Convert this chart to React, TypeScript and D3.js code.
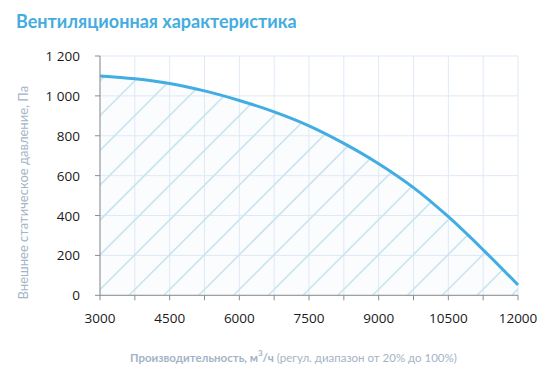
import React from "react";
import * as d3 from "d3";

const flows = [3000, 3750, 4500, 5250, 6000, 6750, 7500, 8250, 9000, 9750, 10500, 11250, 12000];
const pressures = [1100, 1086, 1062, 1025, 977, 920, 850, 762, 660, 540, 394, 228, 52];
const xTickLabels = [3000, 4500, 6000, 7500, 9000, 10500, 12000];
const xMinorTicks = [3000, 3750, 4500, 5250, 6000, 6750, 7500, 8250, 9000, 9750, 10500, 11250, 12000];
const yTicks = [0, 200, 400, 600, 800, 1000, 1200];

const W = 553, H = 379;
const M = { left: 100, right: 35, top: 56, bottom: 84 };

export default function App() {
  const x = d3.scaleLinear().domain([3000, 12000]).range([M.left, W - M.right]);
  const y = d3.scaleLinear().domain([0, 1200]).range([H - M.bottom + 0.3, M.top]);
  const pts = flows.map((f, i) => [f, pressures[i]] as [number, number]);
  const line = d3.line<[number, number]>().x(d => x(d[0])).y(d => y(d[1])).curve(d3.curveCatmullRom.alpha(0.5));
  const area = d3.area<[number, number]>().x(d => x(d[0])).y0(y(0)).y1(d => y(d[1])).curve(d3.curveCatmullRom.alpha(0.5));
  const fmt = (v: number) => v >= 1000 ? `${Math.floor(v / 1000)} ${String(v % 1000).padStart(3, "0")}` : String(v);

  // hatch lines x + y = c
  const hatch: number[] = [];
  for (let c = 356 - 35 * 6; c < 900; c += 34.8) hatch.push(c);
  const x0 = x(3000), x1 = x(12000), yb = y(0), yt = y(1200);
  const labelFont = "Lato, 'Open Sans', sans-serif";

  return (
    <svg width={W} height={H} style={{ position: "absolute", left: 0, top: 0, background: "#fff" }}>
      <defs>
        <clipPath id="areaClip"><path d={area(pts) || ""} /></clipPath>
      </defs>
      <text x={16} y={28} fontFamily={labelFont} fontWeight={700} fontSize={18} fill="#45ace0">Вентиляционная характеристика</text>
      <path d={area(pts) || ""} fill="#fbfcfe" />
      {xMinorTicks.map(t => (
        <line key={"gx" + t} x1={x(t)} x2={x(t)} y1={yt} y2={yb} stroke="#dfe9f6" strokeWidth={1} />
      ))}
      {yTicks.map(t => (
        <line key={"gy" + t} x1={x0} x2={x1} y1={y(t)} y2={y(t)} stroke="#dfe9f6" strokeWidth={1} />
      ))}
      <g clipPath="url(#areaClip)">
        {hatch.map((c, i) => (
          <line key={"h" + i} x1={c - yb} y1={yb} x2={c - yt} y2={yt} stroke="#c8e4ee" strokeWidth={1.6} />
        ))}
      </g>
      <path d={line(pts) || ""} fill="none" stroke="#41ade2" strokeWidth={3} />
      <line x1={x0} x2={x0} y1={yt} y2={yb} stroke="#8c8c8c" strokeWidth={1} />
      <line x1={x0} x2={x1} y1={yb} y2={yb} stroke="#8c8c8c" strokeWidth={1} />
      {yTicks.map(t => (
        <g key={"yt" + t}>
          <line x1={x0 - 5} x2={x0} y1={y(t)} y2={y(t)} stroke="#8c8c8c" />
          <text x={80} y={y(t) + 5} textAnchor="end" fontFamily="'Open Sans', sans-serif" fontSize={13.5} fill="#1a1a1a">{fmt(t)}</text>
        </g>
      ))}
      {xMinorTicks.map(t => (
        <line key={"xt" + t} x1={x(t)} x2={x(t)} y1={yb} y2={yb + 5} stroke="#8c8c8c" />
      ))}
      {xTickLabels.map(t => (
        <text key={"xl" + t} x={x(t)} y={323} textAnchor="middle" fontFamily="'Open Sans', sans-serif" fontSize={13.5} fill="#1a1a1a">{t}</text>
      ))}
      <text transform={`translate(28, ${(yt + yb) / 2 + 17}) rotate(-90)`} textAnchor="middle" fontFamily={labelFont} fontSize={13} fill="#a3b4c6">Внешнее статическое давление, Па</text>
      <text x={130} y={362} fontFamily={labelFont} fontSize={11.5} fill="#a3b4c6">
        <tspan fontWeight={700}>Производительность, м</tspan>
        <tspan fontWeight={700} fontSize={8} dy={-6}>3</tspan>
        <tspan fontWeight={700} dy={6}>/ч</tspan>
        <tspan> (регул. диапазон от 20% до 100%)</tspan>
      </text>
    </svg>
  );
}
